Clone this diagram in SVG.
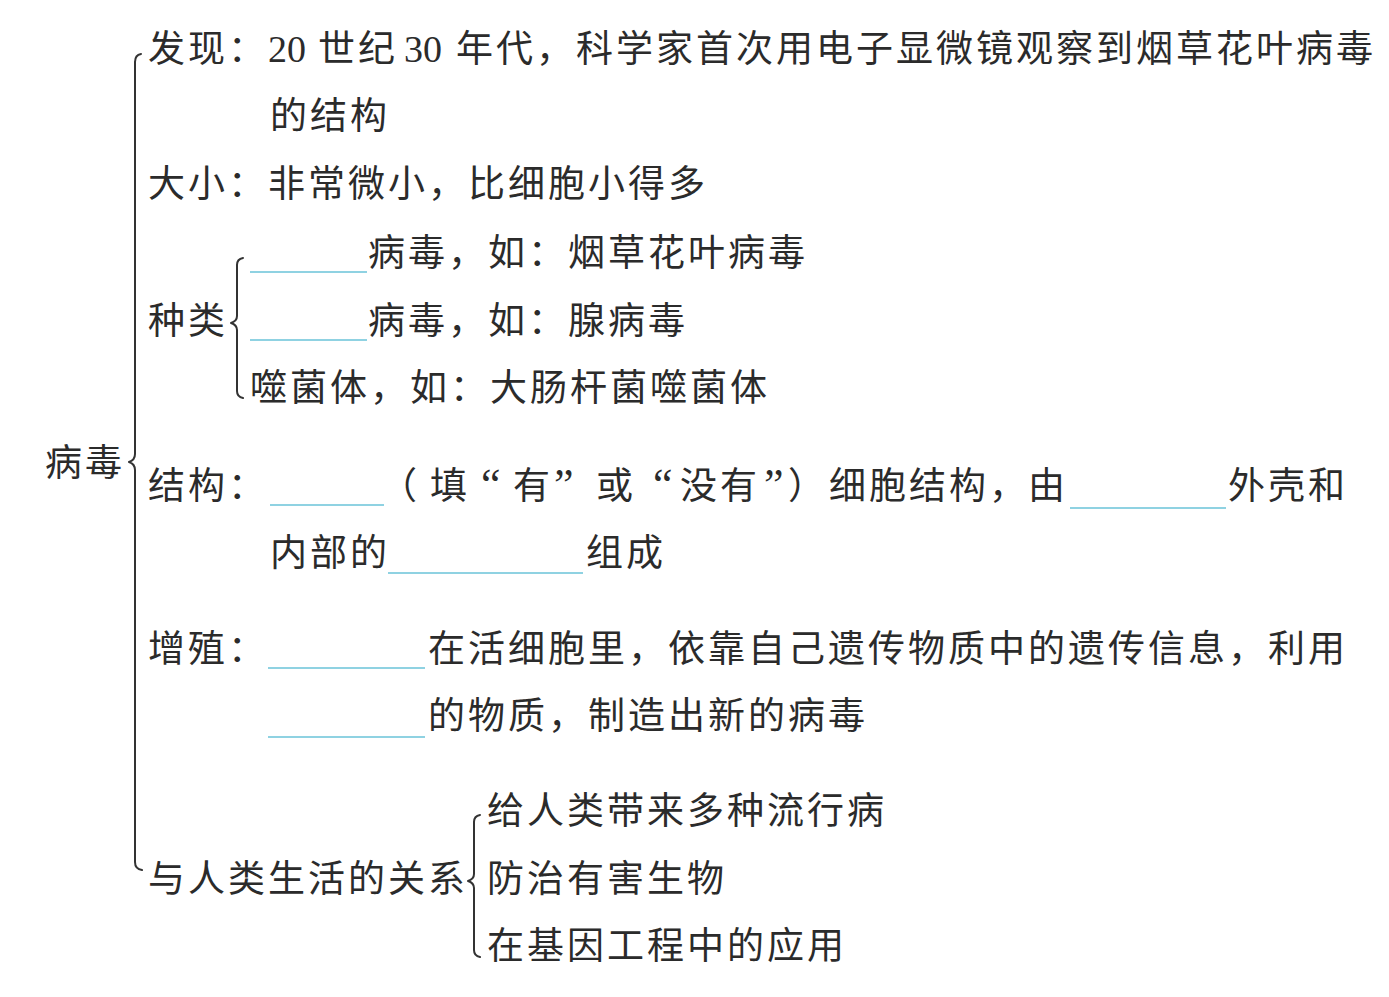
<svg xmlns="http://www.w3.org/2000/svg" width="1389" height="997" viewBox="0 0 1389 997">
<style>
text{font-family:"Noto Sans CJK SC","Noto Sans CJK JP",sans-serif;font-size:37px;letter-spacing:3px;fill:#2b2b2b;}
.num{font-family:"Liberation Serif",serif;font-size:38px;letter-spacing:0;}
.q{font-family:"Liberation Serif",serif;font-size:44px;letter-spacing:0;}
.blank{stroke:#8fd2e2;stroke-width:1.8;fill:none;}
.brace{stroke:#333;stroke-width:2;fill:none;stroke-linecap:round;stroke-linejoin:round;}
</style>
<rect width="1389" height="997" fill="#fff"/>
<g id="connectors">
<path class="brace" d="M141,54 Q135,55 135,62 L135,454 Q135,460 129,462 Q135,464 135,470 L135,862 Q135,869 142,870"/>
<path class="brace" d="M243,258 Q237,259 237,265 L237,316 Q237,321 231,323 Q237,325 237,330 L237,391 Q237,397 243,398"/>
<path class="brace" d="M480,815 Q474,816 474,822 L474,874 Q474,879 468,881 Q474,883 474,888 L474,950 Q474,956 480,957"/>
</g>
<g id="root"><text x="45" y="476">病毒</text></g>
<g id="discovery">
<text x="148" y="62">发现：<tspan class="num" x="268">20</tspan><tspan x="318">世纪</tspan><tspan class="num" x="404">30</tspan><tspan x="456">年代，科学家首次用电子显微镜观察到烟草花叶病毒</tspan></text>
<text x="270" y="129">的结构</text>
</g>
<g id="size"><text x="148" y="197">大小：非常微小，比细胞小得多</text></g>
<g id="types">
<text x="148" y="334">种类</text>
</g>
<g id="type-plant">
<line class="blank" x1="250" y1="272" x2="367" y2="272"/>
<text x="368" y="266">病毒，如：烟草花叶病毒</text>
</g>
<g id="type-animal">
<line class="blank" x1="250" y1="340" x2="367" y2="340"/>
<text x="368" y="334">病毒，如：腺病毒</text>
</g>
<g id="type-phage"><text x="250" y="401">噬菌体，如：大肠杆菌噬菌体</text></g>
<g id="structure">
<text x="148" y="499">结构：</text>
<line class="blank" x1="270" y1="505" x2="384" y2="505"/>
<text x="380" y="499">（<tspan x="430">填</tspan><tspan class="q" x="481">“</tspan><tspan x="513">有</tspan><tspan class="q" x="554">”</tspan><tspan x="596">或</tspan><tspan class="q" x="653">“</tspan><tspan x="680">没有</tspan><tspan class="q" x="764">”</tspan><tspan x="788">）</tspan><tspan x="829">细胞结构，</tspan><tspan x="1028">由</tspan></text>
<line class="blank" x1="1070" y1="508" x2="1226" y2="508"/>
<text x="1228" y="499">外壳和</text>
<text x="270" y="566">内部的</text>
<line class="blank" x1="388" y1="573" x2="583" y2="573"/>
<text x="586" y="566">组成</text>
</g>
<g id="reproduction">
<text x="148" y="662">增殖：</text>
<line class="blank" x1="268" y1="668" x2="425" y2="668"/>
<text x="428" y="662">在活细胞里，依靠自己遗传物质中的遗传信息，利用</text>
<line class="blank" x1="268" y1="737" x2="425" y2="737"/>
<text x="428" y="729">的物质，制造出新的病毒</text>
</g>
<g id="relation"><text x="148" y="892">与人类生活的关系</text></g>
<g id="rel-disease"><text x="487" y="824">给人类带来多种流行病</text></g>
<g id="rel-pest"><text x="487" y="892">防治有害生物</text></g>
<g id="rel-gene"><text x="487" y="959">在基因工程中的应用</text></g>
</svg>
